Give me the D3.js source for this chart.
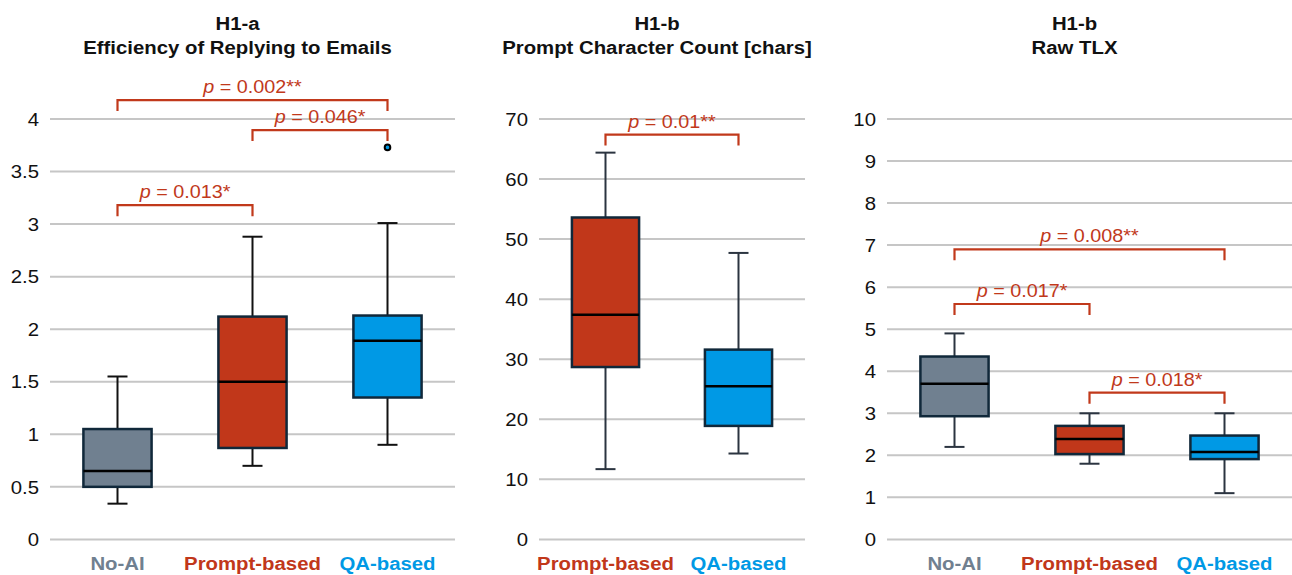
<!DOCTYPE html>
<html>
<head>
<meta charset="utf-8">
<script src="https://cdn.jsdelivr.net/npm/d3@7/dist/d3.min.js"></script>
<style>
  html, body { margin: 0; padding: 0; background: #fff; }
  svg { display: block; }
  text { font-family: "Liberation Sans", Arial, Helvetica, sans-serif; }
</style>
</head>
<body>
<svg id="chart" width="1292" height="575"></svg>
<script>
// ---------- DATA ----------
// Panel 1: H1-a Efficiency of Replying to Emails
const p1Categories = ["No-AI", "Prompt-based", "QA-based"];
const p1Min    = [0.34, 0.70, 0.90];
const p1Q1     = [0.50, 0.87, 1.35];
const p1Median = [0.65, 1.50, 1.89];
const p1Q3     = [1.05, 2.12, 2.13];
const p1Max    = [1.55, 2.88, 3.01];
const p1Outliers = [[], [], [3.73]];
const p1Ticks = [0, 0.5, 1, 1.5, 2, 2.5, 3, 3.5, 4];
const p1TickLabels = ["0", "0.5", "1", "1.5", "2", "2.5", "3", "3.5", "4"];
const p1Brackets = [
  { from: 0, to: 2, y: 4.18, label: "0.002**" },
  { from: 1, to: 2, y: 3.895, label: "0.046*" },
  { from: 0, to: 1, y: 3.18, label: "0.013*" }
];
const p1Title = ["H1-a", "Efficiency of Replying to Emails"];

// Panel 2: H1-b Prompt Character Count
const p2Categories = ["Prompt-based", "QA-based"];
const p2Min    = [11.7, 14.3];
const p2Q1     = [28.7, 18.9];
const p2Median = [37.4, 25.5];
const p2Q3     = [53.6, 31.6];
const p2Max    = [64.4, 47.7];
const p2Outliers = [[], []];
const p2Ticks = [0, 10, 20, 30, 40, 50, 60, 70];
const p2TickLabels = ["0", "10", "20", "30", "40", "50", "60", "70"];
const p2Brackets = [
  { from: 0, to: 1, y: 67.4, label: "0.01**" }
];
const p2Title = ["H1-b", "Prompt Character Count [chars]"];

// Panel 3: H1-b Raw TLX
const p3Categories = ["No-AI", "Prompt-based", "QA-based"];
const p3Min    = [2.2, 1.8, 1.1];
const p3Q1     = [2.93, 2.03, 1.91];
const p3Median = [3.70, 2.39, 2.08];
const p3Q3     = [4.35, 2.70, 2.47];
const p3Max    = [4.9, 3.0, 3.0];
const p3Outliers = [[], [], []];
const p3Ticks = [0, 1, 2, 3, 4, 5, 6, 7, 8, 9, 10];
const p3TickLabels = ["0", "1", "2", "3", "4", "5", "6", "7", "8", "9", "10"];
const p3Brackets = [
  { from: 0, to: 2, y: 6.90, label: "0.008**" },
  { from: 0, to: 1, y: 5.60, label: "0.017*" },
  { from: 1, to: 2, y: 3.49, label: "0.018*" }
];
const p3Title = ["H1-b", "Raw TLX"];

const categoryColors = { "No-AI": "#708090", "Prompt-based": "#C1371A", "QA-based": "#0099E5" };

// ---------- STYLE / LAYOUT ----------
const SX = 1.1;          // horizontal text stretch
const FS = 18;           // base font size
const bracketColor = "#C1391B";
const gridColor = "#c6c6c6";
const boxStroke = "#10283a";

const panels = [
  { cats: p1Categories, min: p1Min, q1: p1Q1, med: p1Median, q3: p1Q3, max: p1Max, out: p1Outliers,
    ticks: p1Ticks, tickLabels: p1TickLabels, brackets: p1Brackets, title: p1Title,
    left: 50, right: 455, domain: [0, 4], whisker: "#111111" },
  { cats: p2Categories, min: p2Min, q1: p2Q1, med: p2Median, q3: p2Q3, max: p2Max, out: p2Outliers,
    ticks: p2Ticks, tickLabels: p2TickLabels, brackets: p2Brackets, title: p2Title,
    left: 539, right: 805, domain: [0, 70], whisker: "#2b3440" },
  { cats: p3Categories, min: p3Min, q1: p3Q1, med: p3Median, q3: p3Q3, max: p3Max, out: p3Outliers,
    ticks: p3Ticks, tickLabels: p3TickLabels, brackets: p3Brackets, title: p3Title,
    left: 887, right: 1292, domain: [0, 10], whisker: "#2b3440" }
];

const svg = d3.select("#chart");

function addText(g, x, y, str, opts = {}) {
  const t = g.append("text")
    .attr("transform", `translate(${x},${y}) scale(${opts.sx || SX},1)`)
    .attr("text-anchor", opts.anchor || "middle")
    .attr("font-size", opts.size || FS)
    .attr("font-weight", opts.weight || "normal")
    .attr("fill", opts.fill || "#111");
  if (opts.dy) t.attr("dy", opts.dy);
  t.text(str);
  return t;
}

panels.forEach(p => {
  const g = svg.append("g");
  const y = d3.scaleLinear().domain(p.domain).range([539.4, 119]);
  const x = d3.scaleBand().domain(p.cats).range([p.left, p.right]);
  const bw = x.bandwidth() * 0.505;
  const cx = c => x(c) + x.bandwidth() / 2;

  // gridlines
  g.selectAll("line.grid").data(p.ticks).join("line")
    .attr("x1", p.left).attr("x2", p.right)
    .attr("y1", d => y(d)).attr("y2", d => y(d))
    .attr("stroke", gridColor).attr("stroke-width", 2);

  // tick labels
  p.ticks.forEach((t, i) => {
    addText(g, p.left - 11, y(t), p.tickLabels[i], { anchor: "end", dy: "0.36em", fill: "#111", size: 18.5 });
  });

  // titles
  const tc = (p.left + p.right) / 2 - 15;
  addText(g, tc, 29.5, p.title[0], { weight: "bold", size: 18.5 });
  addText(g, tc, 54, p.title[1], { weight: "bold", size: 18.5 });

  // boxes
  p.cats.forEach((c, i) => {
    const xc = cx(c);
    // whiskers
    g.append("line").attr("x1", xc).attr("x2", xc).attr("y1", y(p.max[i])).attr("y2", y(p.q3[i]))
      .attr("stroke", p.whisker).attr("stroke-width", 2);
    g.append("line").attr("x1", xc).attr("x2", xc).attr("y1", y(p.q1[i])).attr("y2", y(p.min[i]))
      .attr("stroke", p.whisker).attr("stroke-width", 2);
    [p.max[i], p.min[i]].forEach(v => {
      g.append("line").attr("x1", xc - 10).attr("x2", xc + 10).attr("y1", y(v)).attr("y2", y(v))
        .attr("stroke", p.whisker).attr("stroke-width", 2);
    });
    // box
    g.append("rect").attr("x", xc - bw / 2).attr("width", bw)
      .attr("y", y(p.q3[i])).attr("height", y(p.q1[i]) - y(p.q3[i]))
      .attr("fill", categoryColors[c]).attr("stroke", boxStroke).attr("stroke-width", 2.5);
    // median
    g.append("line").attr("x1", xc - bw / 2).attr("x2", xc + bw / 2)
      .attr("y1", y(p.med[i])).attr("y2", y(p.med[i]))
      .attr("stroke", "#000").attr("stroke-width", 2.5);
    // outliers
    p.out[i].forEach(v => {
      g.append("circle").attr("cx", xc).attr("cy", y(v)).attr("r", 2.8)
        .attr("fill", categoryColors[c]).attr("stroke", "#000").attr("stroke-width", 2);
    });
    // x label
    addText(g, xc, 570, c, { weight: "bold", size: 18.5, fill: categoryColors[c] });
  });

  // brackets
  p.brackets.forEach(b => {
    const x1 = cx(p.cats[b.from]), x2 = cx(p.cats[b.to]);
    const yy = y(b.y);
    g.append("path")
      .attr("d", `M${x1},${yy + 11} V${yy} H${x2} V${yy + 11}`)
      .attr("fill", "none").attr("stroke", bracketColor).attr("stroke-width", 2.2);
    const t = g.append("text")
      .attr("transform", `translate(${(x1 + x2) / 2},${yy - 7}) scale(${SX},1)`)
      .attr("text-anchor", "middle").attr("font-size", FS).attr("fill", bracketColor);
    t.append("tspan").attr("font-style", "italic").text("p");
    t.append("tspan").text(" = " + b.label);
  });
});
</script>
</body>
</html>
